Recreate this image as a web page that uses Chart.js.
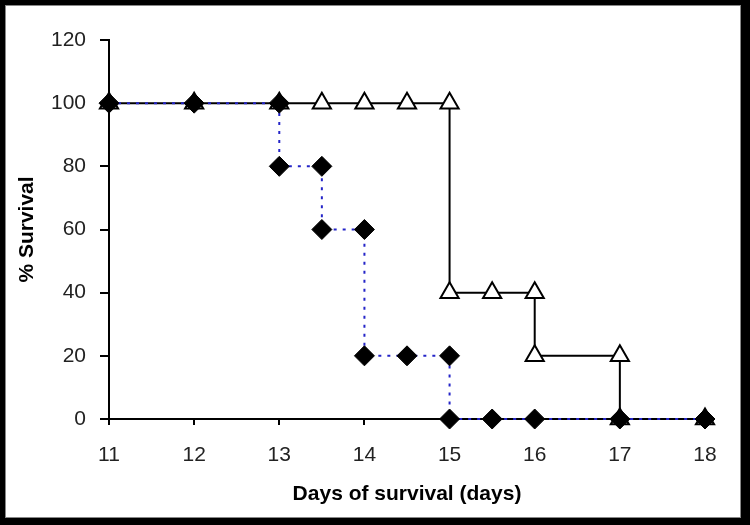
<!DOCTYPE html>
<html>
<head>
<meta charset="utf-8">
<script src="https://cdn.jsdelivr.net/npm/chart.js@4/dist/chart.umd.min.js"></script>
<style>
  html, body { margin: 0; padding: 0; background: #000; }
  #wrap { position: relative; width: 750px; height: 525px; overflow: hidden; }
  #frame { position: absolute; left: 5px; top: 5px; width: 734px; height: 511px; background: #fff; border: 1px solid #888; }
  #c { position: absolute; left: 0; top: 0; }
</style>
</head>
<body>
<div id="wrap">
  <div id="frame"></div>
  <canvas id="c" width="750" height="525"></canvas>
</div>
<script>
// Days (x) and % survival (y)
const diamondDays     = [11, 12, 13, 13, 13.5, 13.5, 14, 14, 14.5, 15, 15, 15.5, 16, 17, 18];
const diamondSurvival = [100, 100, 100, 80, 80, 60, 60, 20, 20, 20, 0, 0, 0, 0, 0];
const triangleDays     = [11, 12, 13, 13.5, 14, 14.5, 15, 15, 15.5, 16, 16, 17, 17, 18];
const triangleSurvival = [100, 100, 100, 100, 100, 100, 100, 40, 40, 40, 20, 20, 0, 0];
const xTicks = [11, 12, 13, 14, 15, 16, 17, 18];
const yTicks = [0, 20, 40, 60, 80, 100, 120];

const toPts = (xs, ys) => xs.map((x, i) => ({ x: x, y: ys[i] }));
const FONT = "'Liberation Sans Narrow', 'Arial Narrow', 'Liberation Sans', Arial, sans-serif";

new Chart(document.getElementById('c'), {
  type: 'scatter',
  data: {
    datasets: [
      {
        label: 'Diamonds',
        data: toPts(diamondDays, diamondSurvival),
        showLine: true,
        borderColor: '#2424c8',
        borderWidth: 2,
        borderDash: [3, 6],
        pointStyle: 'rectRot',
        pointRadius: 10,
        pointBackgroundColor: '#000',
        pointBorderColor: '#000',
        pointBorderWidth: 1,
        clip: false
      },
      {
        label: 'Triangles',
        data: toPts(triangleDays, triangleSurvival),
        showLine: true,
        borderColor: '#000',
        borderWidth: 2,
        pointStyle: 'triangle',
        pointRadius: 10.5,
        pointBackgroundColor: '#fff',
        pointBorderColor: '#000',
        pointBorderWidth: 2,
        clip: false
      }
    ]
  },
  options: {
    responsive: false,
    animation: false,
    layout: { padding: { left: 0, right: 45, top: 40, bottom: 0 } },
    plugins: { legend: { display: false }, tooltip: { enabled: false } },
    scales: {
      x: {
        type: 'linear',
        min: 11, max: 18,
        afterBuildTicks: (s) => { s.ticks = xTicks.map(v => ({ value: v })); },
        afterFit: (s) => { s.height = 106; },
        grid: { drawOnChartArea: false, drawTicks: true, tickLength: 6, color: '#000', lineWidth: 2 },
        border: { color: '#000', width: 2 },
        ticks: { color: '#222', padding: 18, font: { family: FONT, size: 21 } },
        title: { display: true, text: 'Days of survival (days)', color: '#000', padding: { top: 18, bottom: 18 }, font: { family: FONT, size: 21, weight: 'bold' } }
      },
      y: {
        min: 0, max: 120,
        afterBuildTicks: (s) => { s.ticks = yTicks.map(v => ({ value: v })); },
        afterFit: (s) => { s.width = 109; },
        grid: { drawOnChartArea: false, drawTicks: true, tickLength: 9, color: '#000', lineWidth: 2 },
        border: { color: '#000', width: 2 },
        ticks: { color: '#222', padding: 14, font: { family: FONT, size: 21 } },
        title: { display: true, text: '% Survival', color: '#000', padding: { top: 15, bottom: 15 }, font: { family: FONT, size: 21, weight: 'bold' } }
      }
    }
  }
});
</script>
</body>
</html>
